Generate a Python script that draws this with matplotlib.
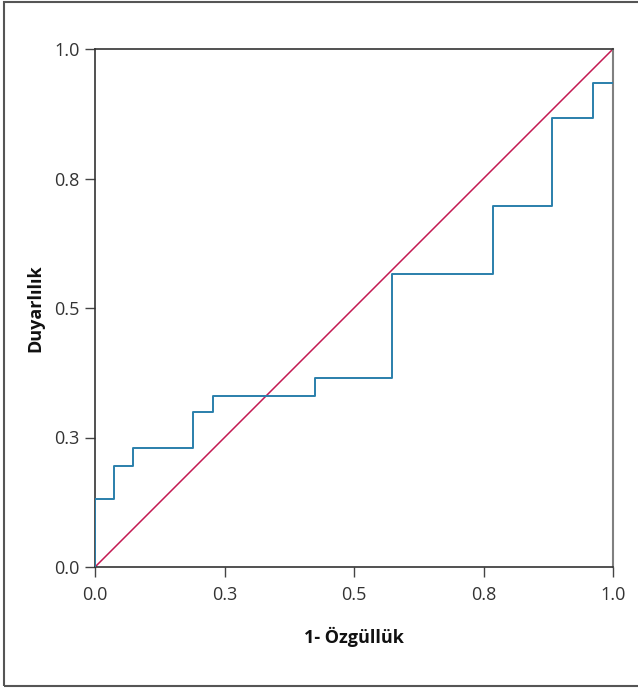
import matplotlib
matplotlib.use("Agg")
import matplotlib.pyplot as plt
from matplotlib.patches import Rectangle

# ROC curve values
fpr = [0.0, 0.0, 0.037, 0.074, 0.190, 0.228, 0.425, 0.574, 0.769, 0.883, 0.961, 1.0]
tpr = [0.0, 0.132, 0.195, 0.230, 0.300, 0.330, 0.365, 0.566, 0.697, 0.866, 0.934, 0.934]
ref_line = [0.0, 1.0]
tick_pos = [0.0, 0.25, 0.5, 0.75, 1.0]
tick_labels = ["0.0", "0.3", "0.5", "0.8", "1.0"]

plt.rcParams['font.family'] = ['Open Sans', 'DejaVu Sans']

fig = plt.figure(figsize=(6.38, 6.88), dpi=100)
W, H = 638.0, 688.0
ax = fig.add_axes([95 / W, 1 - 567 / H, 518 / W, 518 / H])

# outer frame (runs off the right edge)
fig.patches.append(Rectangle((4 / W, 2 / H), 1.0, 684 / H, transform=fig.transFigure,
                             fill=False, edgecolor="#555555", linewidth=1.5))

ax.plot(ref_line, ref_line, color="#c41a52", linewidth=1.1, zorder=2)
ax.plot(fpr, tpr, drawstyle="steps-post", color="#2a7fab", linewidth=1.4, zorder=3)

ax.set_xlim(0, 1)
ax.set_ylim(0, 1)
ax.set_xticks(tick_pos)
ax.set_xticklabels(tick_labels)
ax.set_yticks(tick_pos)
ax.set_yticklabels(tick_labels)
ax.tick_params(direction="out", length=7, width=1, color="#444444",
               labelsize=13, labelcolor="#333333", pad=4)
ax.tick_params(axis="x", pad=7)

for side in ["left", "bottom", "top"]:
    ax.spines[side].set_color("#333333")
    ax.spines[side].set_linewidth(1.2)
ax.spines["right"].set_color("#808080")
ax.spines["right"].set_linewidth(1.5)

ax.set_xlabel("1- Özgüllük", fontsize=13, fontweight="bold", color="#111111", labelpad=16)
ax.set_ylabel("Duyarlılık", fontsize=13, fontweight="bold", color="#111111", labelpad=7)

fig.savefig("out.png", dpi=100)
